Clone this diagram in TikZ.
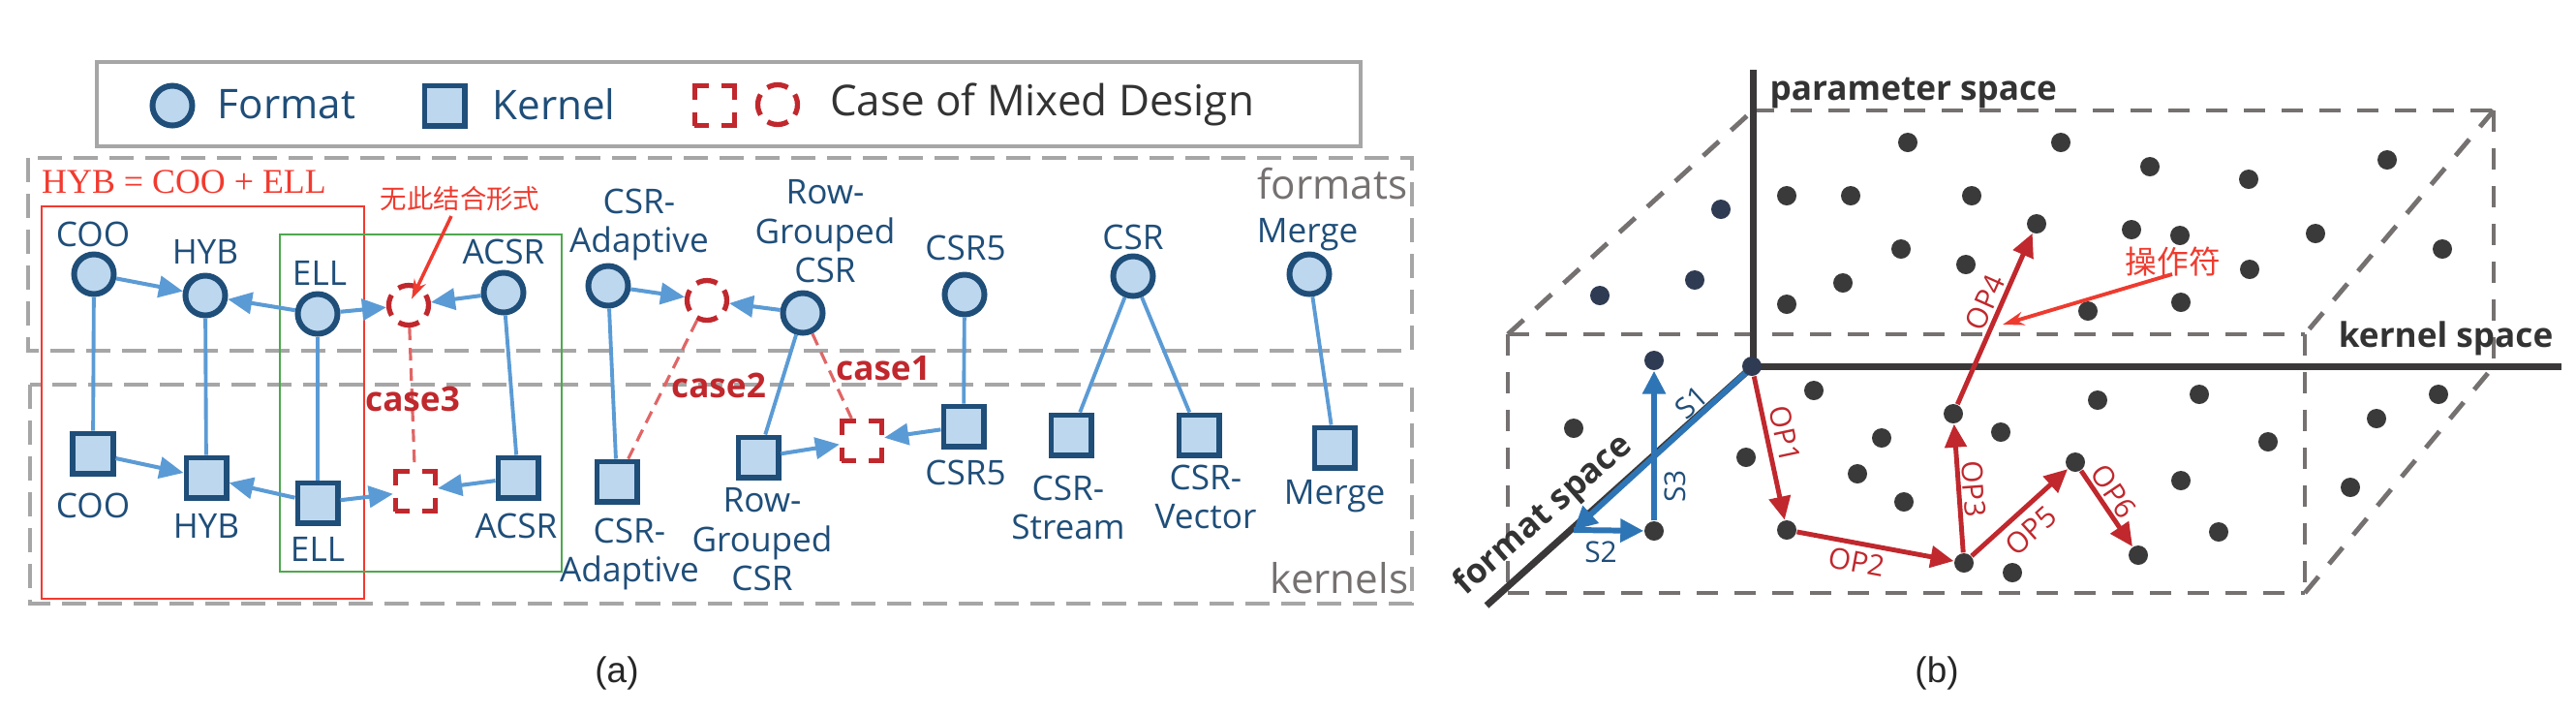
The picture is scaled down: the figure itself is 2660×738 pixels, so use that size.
\documentclass[tikz,border=0pt]{standalone}
\usepackage{fontspec}
\setmainfont{Open Sans}
\newfontfamily\cjk{Noto Sans CJK SC}
\newfontfamily\serif{Liberation Serif}
\newfontfamily\arial{Liberation Sans}
\usetikzlibrary{arrows.meta}
\definecolor{fmtfill}{HTML}{BDD7EE}
\definecolor{fmtdraw}{HTML}{1F4E79}
\definecolor{lblue}{HTML}{5B9BD5}
\definecolor{mixred}{HTML}{C0282D}
\definecolor{dred}{HTML}{E06666}
\definecolor{boxgray}{HTML}{A6A6A6}
\definecolor{txtgray}{HTML}{767171}
\definecolor{annred}{HTML}{EE3B2F}
\definecolor{rectred}{HTML}{F23A2F}
\definecolor{rectgreen}{HTML}{4EA84E}
\definecolor{dotc}{HTML}{3A3A3A}
\definecolor{navy}{HTML}{2F3B52}
\definecolor{axisc}{HTML}{3A3838}
\definecolor{dashb}{HTML}{767171}
\definecolor{sblue}{HTML}{2E75B6}
\definecolor{darktxt}{HTML}{333333}
\tikzset{
 fmt/.style={circle, draw=fmtdraw, fill=fmtfill, line width=1.7pt, minimum size=0.41cm, inner sep=0pt},
 krn/.style={rectangle, draw=fmtdraw, fill=fmtfill, line width=1.7pt, minimum size=0.41cm, inner sep=0pt},
 mixc/.style={circle, draw=mixred, line width=1.5pt, minimum size=0.41cm, inner sep=0pt, dash pattern=on 0.22cm off 0.102cm, dash phase=0.11cm},
 mixs/.style={rectangle, draw=mixred, line width=1.5pt, minimum size=0.41cm, inner sep=0pt, dash pattern=on 0.28cm off 0.13cm, dash phase=0.14cm},
 lbl/.style={text=fmtdraw, font=\fontsize{10}{11.5}\selectfont, align=center, inner sep=0pt},
 legtxt/.style={font=\fontsize{12}{14}\selectfont, inner sep=0pt},
 barr/.style={draw=lblue, line width=1.15pt, -{Triangle[length=0.25cm,width=0.22cm]}},
 bln/.style={draw=lblue, line width=1.1pt},
 rdl/.style={draw=dred, line width=0.9pt, dash pattern=on 0.13cm off 0.08cm},
 casel/.style={text=mixred, font=\bfseries\fontsize{10}{12}\selectfont, inner sep=0pt},
 gdash/.style={draw=boxgray, line width=1.15pt, dash pattern=on 0.25cm off 0.12cm},
 grtxt/.style={text=txtgray, font=\fontsize{12}{14}\selectfont, inner sep=0pt},
 bdash/.style={draw=dashb, line width=1.4pt, dash pattern=on 0.22cm off 0.17cm},
 axln/.style={draw=axisc, line width=2pt},
 dotn/.style={circle, fill=dotc, minimum size=0.2cm, inner sep=0pt},
 ndot/.style={circle, fill=navy, minimum size=0.2cm, inner sep=0pt},
 oparr/.style={draw=mixred, line width=1.4pt, -{Triangle[length=0.24cm,width=0.22cm]}},
 sarr/.style={draw=sblue, line width=1.7pt, -{Triangle[length=0.24cm,width=0.23cm]}},
 oplbl/.style={text=mixred, font=\fontsize{8.5}{10}\selectfont, inner sep=0pt},
 slbl/.style={text=fmtdraw, font=\fontsize{8.5}{10}\selectfont, inner sep=0pt},
 axlbl/.style={text=darktxt, font=\bfseries\fontsize{10}{12}\selectfont, inner sep=0pt},
 captxt/.style={text=black!85, font=\arial\fontsize{10.5}{12}\selectfont, inner sep=0pt}
}
\begin{document}
\begin{tikzpicture}[x=0.01cm,y=-0.01cm]
\useasboundingbox (0,0) rectangle (2660,738);

% ---------------- (a) ----------------
\draw[gdash] (29,163) rectangle (1458,362);
\draw[gdash] (31,397) rectangle (1458,623);
\node[grtxt] (tformats) at (1376,190) {formats};
\node[grtxt] (tkernels) at (1383,597) {kernels};

% legend
\draw[draw=boxgray, line width=1.15pt] (100,64) rectangle (1405,151);
\node[fmt] (legf) at (178,109) {};
\node[legtxt, text=fmtdraw] (legft) at (296,108) {Format};
\node[krn] (legk) at (459,109) {};
\node[legtxt, text=fmtdraw] (legkt) at (572,108) {Kernel};
\node[mixs] (legms) at (738,109) {};
\node[mixc] (legmc) at (803,108) {};
\node[legtxt, text=darktxt, font=\fontsize{12.5}{14}\selectfont] (legmt) at (1076,108) {Case of Mixed Design};

% red / green groupings
\draw[draw=rectred, line width=0.8pt] (43,213) rectangle (376,618);
\draw[draw=rectgreen, line width=0.8pt] (289,242) rectangle (580,590);
\node[text=rectred, font=\serif\fontsize{10.2}{12}\selectfont, inner sep=0pt] (hyb) at (190,188) {HYB = COO + ELL};
\node[text=annred, font=\cjk\fontsize{7.8}{9}\selectfont, inner sep=0pt] (nocomb) at (475,205) {无此结合形式};
\coordinate (nocombtail) at (466,223);

% format nodes
\node[fmt] (fCOO) at (97,283) {};
\node[fmt] (fHYB) at (212,305) {};
\node[fmt] (fELL) at (328,324) {};
\node[mixc] (mC1) at (422,315) {};
\node[fmt] (fACSR) at (520,302) {};
\node[fmt] (fCSRA) at (628,295) {};
\node[mixc] (mC2) at (730,310) {};
\node[fmt] (fRG) at (829,323) {};
\node[fmt] (fCSR5) at (996,304) {};
\node[fmt] (fCSR) at (1170,285) {};
\node[fmt] (fMerge) at (1352,283) {};

\node[lbl] (lfCOO) at (96,242) {COO};
\node[lbl] (lfHYB) at (212,260) {HYB};
\node[lbl] (lfELL) at (330,282) {ELL};
\node[lbl] (lfACSR) at (520,260) {ACSR};
\node[lbl] (lfCSRA) at (660,232) {CSR-\\Adaptive};
\node[lbl] (lfRG) at (852,239) {Row-\\Grouped\\CSR};
\node[lbl] (lfCSR5) at (997,256) {CSR5};
\node[lbl] (lfCSR) at (1170,245) {CSR};
\node[lbl] (lfMerge) at (1350,242) {Merge};

% kernel nodes
\node[krn] (kCOO) at (96,468) {};
\node[krn] (kHYB) at (213,493) {};
\node[krn] (kELL) at (328,519) {};
\node[mixs] (mS1) at (429,507) {};
\node[krn] (kACSR) at (535,493) {};
\node[krn] (kCSRA) at (637,497) {};
\node[krn] (kRG) at (783,472) {};
\node[mixs] (mS2) at (890,455) {};
\node[krn] (kCSR5) at (995,440) {};
\node[krn] (kStream) at (1106,449) {};
\node[krn] (kVector) at (1238,449) {};
\node[krn] (kMerge) at (1378,462) {};

\node[lbl] (lkCOO) at (96,522) {COO};
\node[lbl] (lkHYB) at (213,543) {HYB};
\node[lbl] (lkELL) at (328,567) {ELL};
\node[lbl] (lkACSR) at (533,543) {ACSR};
\node[lbl] (lkCSRA) at (650,572) {CSR-\\Adaptive};
\node[lbl] (lkRG) at (787,557) {Row-\\Grouped\\CSR};
\node[lbl] (lkCSR5) at (997,488) {CSR5};
\node[lbl] (lkStream) at (1103,524) {CSR-\\Stream};
\node[lbl] (lkVector) at (1245,513) {CSR-\\Vector};
\node[lbl] (lkMerge) at (1378,512) {Merge};

% vertical links
\draw[bln] (fCOO) -- (kCOO);
\draw[bln] (fHYB) -- (kHYB);
\draw[bln] (fELL) -- (kELL);
\draw[bln] (fACSR) -- (kACSR);
\draw[bln] (fCSRA) -- (kCSRA);
\draw[bln] (fRG) -- (kRG);
\draw[bln] (fCSR5) -- (kCSR5);
\draw[bln] (fCSR) -- (kStream);
\draw[bln] (fCSR) -- (kVector);
\draw[bln] (fMerge) -- (kMerge);

% mixed-design dashed links
\draw[rdl] (mC1) -- (mS1);
\draw[rdl] (mC2) -- (kCSRA);
\draw[rdl] (fRG) -- (mS2);
\node[casel] (case3) at (426,412) {case3};
\node[casel] (case2) at (742,398) {case2};
\node[casel] (case1) at (912,380) {case1};

% arrows
\draw[barr] (fCOO) -- (fHYB);
\draw[barr] (fELL) -- (fHYB);
\draw[barr] (fELL) -- (mC1);
\draw[barr] (fACSR) -- (mC1);
\draw[barr] (fCSRA) -- (mC2);
\draw[barr] (fRG) -- (mC2);
\draw[barr] (kCOO) -- (kHYB);
\draw[barr] (kELL) -- (kHYB);
\draw[barr] (kELL) -- (mS1);
\draw[barr] (kACSR) -- (mS1);
\draw[barr] (kRG) -- (mS2);
\draw[barr] (kCSR5) -- (mS2);

% annotation arrow
\draw[draw=annred, line width=1pt, -{Stealth[length=0.2cm,width=0.13cm]}, shorten >=2pt] (nocombtail) -- (mC1.center);

\node[captxt] (capa) at (637,695) {(a)};

% ---------------- (b) ----------------
\coordinate (btl) at (1810,114);
\coordinate (btr) at (2575,114);
\coordinate (bbr) at (2575,378);
\coordinate (ftl) at (1557,345);
\coordinate (ftr) at (2380,345);
\coordinate (fbl) at (1557,612);
\coordinate (fbr) at (2380,612);
\draw[bdash] (btl) -- (btr);
\draw[bdash] (btr) -- (bbr);
\draw[bdash] (btr) -- (ftr);
\draw[bdash] (ftl) -- (btl);
\draw[bdash] (ftl) -- (ftr);
\draw[bdash] (ftl) -- (fbl);
\draw[bdash] (fbl) -- (fbr);
\draw[bdash] (ftr) -- (fbr);
\draw[bdash] (fbr) -- (bbr);

% axes
\coordinate (ptop) at (1810,72);
\coordinate (kend) at (2645,378);
\coordinate (fend) at (1535,625);
\coordinate (s1end) at (1625,547);
\draw[axln] (1810,378) -- (ptop);
\draw[axln] (1810,378) -- (kend);
\draw[axln] (1810,378) -- (fend);
\node[axlbl, anchor=base west] (tparam) at (1827,103) {parameter space};
\node[axlbl, anchor=base east] (tkernel) at (2637,358) {kernel space};
\node[axlbl, rotate=41.5] (tformat) at (1594,532) {format space};

% dots
\foreach \n/\x/\y in {d1/1970/147, d2/2128/147, d3/2220/172, d4/2322/185, d5/2465/165,
  d6/1845/202, d7/1911/202, d8/2036/202, d9/2103/231, d10/2201/237, d11/2251/243,
  d12/2391/241, d13/2522/257, d14/1963/257, d15/2030/273, d16/2323/278, d17/1903/292,
  d18/1845/314, d19/2156/321, d20/2252/312,
  e1/1873/403, e2/1803/472, e3/1943/452, e4/1918/489, e5/1966/518, e6/1845/547,
  e7/2028/581, e8/2017/427, e9/2066/446, e10/2143/477, e11/2208/573, e12/2078/591,
  e13/2166/413, e14/2252/496, e15/2271/407, e16/2342/456, e17/2291/549, e18/2518/407,
  e19/2454/432, e20/2427/503, e21/1625/442, e22/1708/548}
  \node[dotn] (\n) at (\x,\y) {};
\foreach \n/\x/\y in {n1/1777/216, n2/1750/289, n3/1652/305, n4/1708/372}
  \node[ndot] (\n) at (\x,\y) {};

% S arrows
\draw[sarr] (1810,378) -- (s1end);
\draw[sarr] (s1end) -- (e22);
\draw[sarr] (e22) -- (n4);
\node[ndot, minimum size=0.2cm] (orig) at (1809,378) {};
\node[slbl, rotate=42] (ls1) at (1747,415) {S1};
\node[slbl] (ls2) at (1653,570) {S2};
\node[slbl, rotate=90] (ls3) at (1730,502) {S3};

% OP arrows
\draw[oparr] (orig) -- (e6);
\draw[oparr] (e6) -- (e7);
\draw[oparr] (e7) -- (e8);
\draw[oparr] (e8) -- (d9);
\draw[oparr] (e7) -- (e10);
\draw[oparr] (e10) -- (e11);
\node[oplbl, rotate=-78] (lop1) at (1843,448) {OP1};
\node[oplbl, rotate=-10.5] (lop2) at (1917,580) {OP2};
\node[oplbl, rotate=-86] (lop3) at (2038,505) {OP3};
\node[oplbl, rotate=66] (lop4) at (2050,312) {OP4};
\node[oplbl, rotate=42] (lop5) at (2097,548) {OP5};
\node[oplbl, rotate=-56] (lop6) at (2183,507) {OP6};

% operator annotation
\node[text=annred, font=\cjk\fontsize{9.3}{11}\selectfont, inner sep=0pt] (opann) at (2244,270) {操作符};
\coordinate (opanntail) at (2243,283);
\coordinate (opannhead) at (2068,335);
\draw[draw=annred, line width=1.1pt, -{Stealth[length=0.22cm,width=0.14cm]}] (opanntail) -- (opannhead);

\node[captxt] (capb) at (2000,695) {(b)};
\end{tikzpicture}
\end{document}
